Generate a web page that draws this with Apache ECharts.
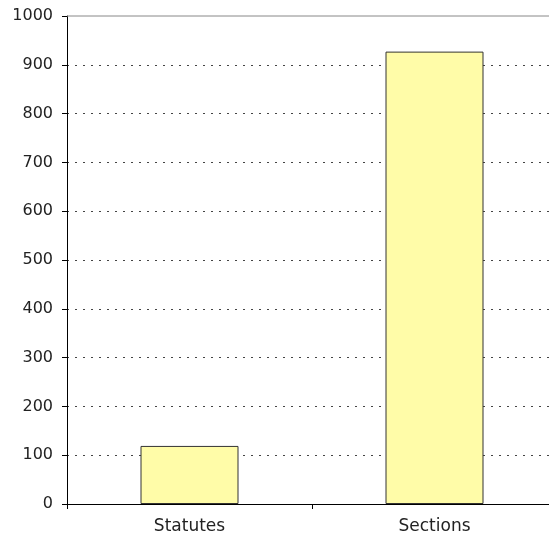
<!DOCTYPE html>
<html>
<head>
<meta charset="utf-8">
<script src="https://cdn.jsdelivr.net/npm/echarts@6/dist/echarts.min.js"></script>
<style>
  html, body { margin: 0; padding: 0; background: #fff; overflow: hidden; }
  #chart { width: 560px; height: 538px; }
</style>
</head>
<body>
<div id="chart"></div>
<script>
// Counts per category
const categories = ['Statutes', 'Sections'];
const counts = [119, 927];
const yTicks = { min: 0, max: 1000, step: 100 };

const chart = echarts.init(document.getElementById('chart'), null, { renderer: 'canvas' });

const font = '"DejaVu Sans", Verdana, sans-serif';
// The plot area runs slightly past the right edge of the visible page
const plotLeft = 67, plotTop = 16, plotWidth = 490, plotHeight = 488;

chart.setOption({
  animation: false,
  backgroundColor: '#ffffff',
  grid: { left: plotLeft, top: plotTop, width: plotWidth, height: plotHeight, containLabel: false },
  xAxis: {
    type: 'category',
    data: categories,
    boundaryGap: true,
    axisLine: { show: true, lineStyle: { color: '#000', width: 1 } },
    axisTick: { show: true, length: 5, alignWithLabel: false, lineStyle: { color: '#000' } },
    axisLabel: { color: '#222', fontFamily: font, fontSize: 17, margin: 14 },
    splitLine: { show: false }
  },
  yAxis: {
    type: 'value',
    min: yTicks.min,
    max: yTicks.max,
    interval: yTicks.step,
    axisLine: { show: true, lineStyle: { color: '#000', width: 1 } },
    axisTick: { show: true, length: 5, lineStyle: { color: '#000' } },
    axisLabel: { color: '#222', fontFamily: font, fontSize: 16, margin: 14,
                 formatter: v => String(v) },
    splitLine: { show: true, showMinLine: false, showMaxLine: false,
                 lineStyle: { color: '#444', type: [2, 6], width: 1 } }
  },
  series: [{
    type: 'bar',
    data: counts,
    barWidth: '40%',
    itemStyle: { color: '#FFFCA8', borderColor: '#333', borderWidth: 1 }
  }]
});

// Solid top border of the plot area at the axis maximum
const topY = chart.convertToPixel({ yAxisIndex: 0 }, yTicks.max);
chart.setOption({
  graphic: [{
    type: 'line',
    shape: { x1: plotLeft, y1: topY, x2: plotLeft + plotWidth, y2: topY },
    style: { stroke: '#888', lineWidth: 1 },
    z: 10
  }]
});
</script>
</body>
</html>
